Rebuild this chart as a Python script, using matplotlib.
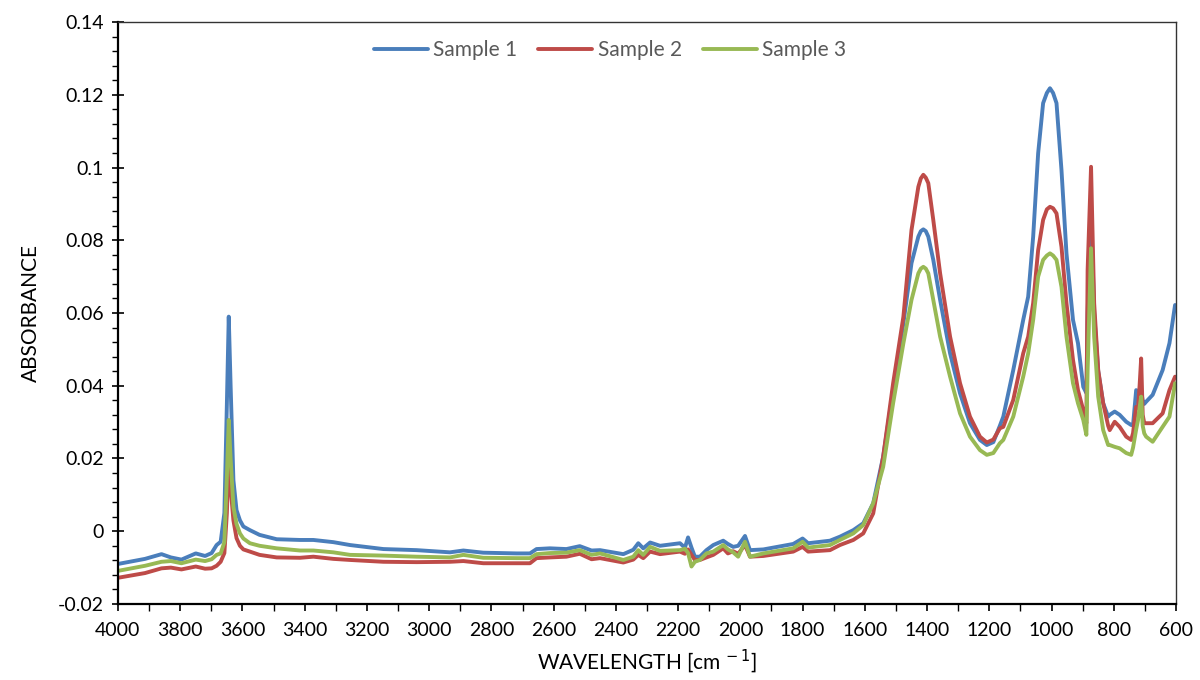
"""FTIR absorbance spectra of three samples."""

import matplotlib.pyplot as plt
from matplotlib.ticker import MultipleLocator

wavenumber = [
    4000, 3913, 3860, 3830, 3796, 3750, 3720, 3699, 3683, 3670, 3658, 3650, 3644, 3638,
    3629, 3619, 3608, 3597, 3576, 3545, 3490, 3415, 3372, 3308, 3254, 3147, 3040, 2933,
    2890, 2826, 2719, 2676, 2655, 2612, 2559, 2516, 2478, 2451, 2376, 2344, 2328, 2312,
    2290, 2258, 2194, 2178, 2168, 2157, 2146, 2130, 2109, 2087, 2055, 2040, 2023, 2007,
    1985, 1969, 1926, 1830, 1800, 1782, 1712, 1680, 1637, 1605, 1573, 1541, 1509, 1476,
    1450, 1428, 1420, 1412, 1404, 1396, 1380, 1358, 1326, 1294, 1262, 1230, 1208, 1187,
    1166, 1155, 1123, 1091, 1075, 1059, 1043, 1027, 1015, 1005, 995, 984, 968, 952, 931,
    915, 898, 888, 884, 873, 863, 850, 834, 818, 813, 797, 781, 760, 744, 738, 728, 722,
    717, 712, 707, 702, 696, 675, 643, 621, 603,
]

sample_1 = [
    -0.0090, -0.0076, -0.0063, -0.0072, -0.0078, -0.0061, -0.0068, -0.0060, -0.0038, -0.0029,
    0.0050, 0.0350, 0.0590, 0.0400, 0.0140, 0.0058, 0.0030, 0.0013, 0.0003, -0.0010,
    -0.0022, -0.0024, -0.0024, -0.0030, -0.0038, -0.0049, -0.0052, -0.0058, -0.0053, -0.0059,
    -0.0061, -0.0061, -0.0049, -0.0047, -0.0049, -0.0041, -0.0053, -0.0052, -0.0063, -0.0051,
    -0.0033, -0.0047, -0.0031, -0.0040, -0.0033, -0.0045, -0.0017, -0.0045, -0.0070, -0.0070,
    -0.0052, -0.0038, -0.0026, -0.0035, -0.0043, -0.0040, -0.0013, -0.0052, -0.0050, -0.0035,
    -0.0020, -0.0033, -0.0026, -0.0015, 0.0003, 0.0022, 0.0077, 0.0205, 0.0388, 0.0572,
    0.0737, 0.0810, 0.0825, 0.0830, 0.0825, 0.0810, 0.0746, 0.0636, 0.0489, 0.0379,
    0.0297, 0.0251, 0.0237, 0.0245, 0.0290, 0.0315, 0.0443, 0.0581, 0.0645, 0.0810,
    0.1039, 0.1177, 0.1205, 0.1218, 0.1205, 0.1177, 0.0993, 0.0764, 0.0581, 0.0517,
    0.0397, 0.0380, 0.0600, 0.0880, 0.0600, 0.0440, 0.0352, 0.0315, 0.0320, 0.0329,
    0.0320, 0.0301, 0.0292, 0.0292, 0.0388, 0.0385, 0.0385, 0.0385, 0.0360, 0.0350,
    0.0356, 0.0375, 0.0443, 0.0517, 0.0622,
]

sample_2 = [
    -0.0128, -0.0115, -0.0102, -0.0100, -0.0105, -0.0097, -0.0103, -0.0102, -0.0095, -0.0084,
    -0.0060, 0.0050, 0.0200, 0.0120, 0.0030, -0.0019, -0.0040, -0.0050, -0.0056, -0.0065,
    -0.0072, -0.0073, -0.0070, -0.0076, -0.0079, -0.0084, -0.0085, -0.0084, -0.0082, -0.0088,
    -0.0088, -0.0088, -0.0074, -0.0072, -0.0070, -0.0062, -0.0077, -0.0074, -0.0086, -0.0078,
    -0.0065, -0.0074, -0.0056, -0.0063, -0.0056, -0.0062, -0.0050, -0.0065, -0.0079, -0.0079,
    -0.0072, -0.0065, -0.0047, -0.0061, -0.0055, -0.0062, -0.0038, -0.0070, -0.0068, -0.0056,
    -0.0043, -0.0056, -0.0052, -0.0038, -0.0024, -0.0006, 0.0049, 0.0205, 0.0407, 0.0590,
    0.0828, 0.0947, 0.0970, 0.0980, 0.0972, 0.0957, 0.0856, 0.0709, 0.0535, 0.0407,
    0.0315, 0.0260, 0.0244, 0.0252, 0.0283, 0.0287, 0.0361, 0.0489, 0.0535, 0.0627,
    0.0773, 0.0856, 0.0885, 0.0892, 0.0888, 0.0874, 0.0782, 0.0627, 0.0471, 0.0388,
    0.0333, 0.0297, 0.0718, 0.1002, 0.0627, 0.0443, 0.0352, 0.0290, 0.0278, 0.0301,
    0.0287, 0.0260, 0.0251, 0.0270, 0.0342, 0.0340, 0.0400, 0.0475, 0.0320, 0.0297,
    0.0297, 0.0297, 0.0324, 0.0388, 0.0425,
]

sample_3 = [
    -0.0109, -0.0095, -0.0084, -0.0082, -0.0088, -0.0078, -0.0082, -0.0077, -0.0065, -0.0061,
    -0.0030, 0.0150, 0.0306, 0.0200, 0.0067, 0.0020, -0.0006, -0.0020, -0.0033, -0.0040,
    -0.0047, -0.0053, -0.0053, -0.0058, -0.0065, -0.0067, -0.0070, -0.0072, -0.0065, -0.0073,
    -0.0074, -0.0074, -0.0063, -0.0060, -0.0059, -0.0052, -0.0065, -0.0061, -0.0079, -0.0070,
    -0.0052, -0.0065, -0.0043, -0.0054, -0.0052, -0.0048, -0.0060, -0.0097, -0.0084, -0.0079,
    -0.0061, -0.0056, -0.0038, -0.0050, -0.0058, -0.0070, -0.0029, -0.0070, -0.0061, -0.0047,
    -0.0029, -0.0045, -0.0038, -0.0024, -0.0006, 0.0017, 0.0077, 0.0177, 0.0352, 0.0517,
    0.0636, 0.0709, 0.0722, 0.0727, 0.0722, 0.0709, 0.0636, 0.0535, 0.0425, 0.0324,
    0.0260, 0.0223, 0.0210, 0.0215, 0.0242, 0.0251, 0.0315, 0.0425, 0.0489, 0.0581,
    0.0700, 0.0746, 0.0758, 0.0764, 0.0758, 0.0746, 0.0672, 0.0535, 0.0407, 0.0352,
    0.0306, 0.0265, 0.0443, 0.0778, 0.0535, 0.0370, 0.0278, 0.0237, 0.0237, 0.0232,
    0.0228, 0.0215, 0.0210, 0.0230, 0.0280, 0.0306, 0.0340, 0.0370, 0.0290, 0.0269,
    0.0260, 0.0246, 0.0287, 0.0315, 0.0407,
]

series = {
    "Sample 1": (sample_1, "#4A7EBB"),
    "Sample 2": (sample_2, "#BE4B48"),
    "Sample 3": (sample_3, "#98B954"),
}

plt.rcParams["font.family"] = ["Lato", "DejaVu Sans"]

fig = plt.figure(figsize=(12, 6.8), dpi=100)
ax = fig.add_axes([0.0983, 0.1118, 0.8817, 0.8558])

for name, (values, color) in series.items():
    ax.plot(wavenumber, values, color=color, linewidth=2.8, label=name,
            solid_joinstyle="round", solid_capstyle="round")

ax.set_xlim(4000, 600)
ax.set_ylim(-0.02, 0.14)
ax.xaxis.set_major_locator(MultipleLocator(200))
ax.xaxis.set_minor_locator(MultipleLocator(100))
ax.yaxis.set_minor_locator(MultipleLocator(0.004))
ax.set_yticks([-0.02, 0, 0.02, 0.04, 0.06, 0.08, 0.1, 0.12, 0.14])
ax.set_yticklabels(["-0.02", "0", "0.02", "0.04", "0.06", "0.08", "0.1", "0.12", "0.14"])

ax.tick_params(axis="both", which="major", labelsize=14, colors="black", width=1.2)
ax.tick_params(axis="y", which="major", direction="inout", length=8, pad=6)
ax.tick_params(axis="y", which="minor", direction="out", length=4, width=1.0)
ax.tick_params(axis="x", which="major", direction="out", length=5, pad=8)
ax.tick_params(axis="x", which="minor", direction="out", length=5, width=1.0)

for side in ("left", "bottom"):
    ax.spines[side].set_linewidth(1.6)
    ax.spines[side].set_color("black")
for side in ("top", "right"):
    ax.spines[side].set_linewidth(1.0)
    ax.spines[side].set_color("#333333")

ax.set_ylabel("ABSORBANCE", fontsize=15, labelpad=12)
ax.set_xlabel("WAVELENGTH [cm$^{\\,-1}$]", fontsize=15, labelpad=6)

leg = ax.legend(
    loc="center",
    bbox_to_anchor=(0.465, 0.952),
    ncol=3,
    frameon=False,
    fontsize=15,
    handlelength=2.6,
    handletextpad=0.25,
    columnspacing=1.0,
)
for text in leg.get_texts():
    text.set_color("#595959")

fig.savefig("out.png", dpi=100)
